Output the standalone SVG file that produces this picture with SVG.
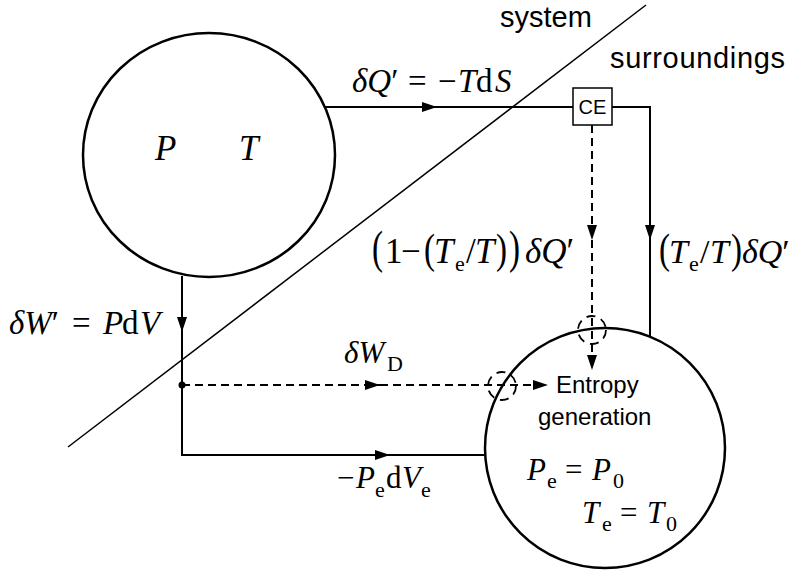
<svg xmlns="http://www.w3.org/2000/svg" width="802" height="573" viewBox="0 0 802 573">
<style>
.m{font-family:"Liberation Serif","Times New Roman",serif;fill:#000}
.i{font-style:italic}
.s{font-size:22px;font-style:normal}
.t{font-family:"Liberation Sans",Arial,sans-serif;fill:#000}
.node{fill:#fff;stroke:#000;stroke-width:2.5}
.c{fill:none;stroke:#000;stroke-width:2}
.d{fill:none;stroke:#000;stroke-width:2;stroke-dasharray:8 5}
.dc{fill:none;stroke:#000;stroke-width:1.8;stroke-dasharray:9 6}
</style>
<defs>
<marker id="arr" markerUnits="userSpaceOnUse" markerWidth="16" markerHeight="12" refX="15" refY="5" orient="auto" viewBox="0 0 16 10">
<path d="M0,0 L15,5 L0,10 z" fill="#000"/>
</marker>
</defs>
<g id="boundary">
<line x1="68" y1="447" x2="646" y2="5" stroke="#000" stroke-width="1.5"/>
<text class="t" x="500" y="27" font-size="29">system</text>
<text class="t" x="610" y="68" font-size="29" textLength="175">surroundings</text>
</g>
<g id="system-node">
<ellipse class="node" cx="209" cy="155" rx="126" ry="122"/>
<text class="m i" x="155" y="160" font-size="35">P</text>
<text class="m i" x="239" y="160" font-size="35">T</text>
</g>
<g id="surroundings-node">
<circle class="node" cx="605" cy="448" r="120"/>
<text class="t" x="556" y="393" font-size="24">Entropy</text>
<text class="t" x="538" y="425" font-size="24">generation</text>
<text class="m" font-size="31" y="480"><tspan class="i" x="527">P</tspan><tspan class="s" x="547" y="488">e</tspan><tspan x="565" y="480">=</tspan><tspan class="i" x="592">P</tspan><tspan class="s" x="613" y="488">0</tspan></text>
<text class="m" font-size="31" y="523"><tspan class="i" x="582">T</tspan><tspan class="s" x="602" y="531">e</tspan><tspan x="620" y="523">=</tspan><tspan class="i" x="647">T</tspan><tspan class="s" x="666" y="531">0</tspan></text>
</g>
<g id="ce-node">
<rect x="573" y="88" width="39" height="37" fill="#fff" stroke="#000" stroke-width="1.5"/>
<text class="t" x="592.5" y="114" font-size="20" text-anchor="middle">CE</text>
</g>
<g id="connectors">
<path class="c" d="M325,107 L437,107" marker-end="url(#arr)"/>
<path class="c" d="M437,107 L573,107"/>
<path class="c" d="M612,107 L650,107 L650,240" marker-end="url(#arr)"/>
<path class="c" d="M650,240 L650,337"/>
<path class="d" d="M592,125 L592,240" marker-end="url(#arr)"/>
<path class="d" d="M592,240 L592,370" marker-end="url(#arr)"/>
<path class="c" d="M182,276 L182,332" marker-end="url(#arr)"/>
<path class="c" d="M182,332 L182,455 L390,455" marker-end="url(#arr)"/>
<path class="c" d="M390,455 L486,455"/>
<path class="d" d="M182,385 L380,385" marker-end="url(#arr)"/>
<path class="d" d="M380,385 L548,385" marker-end="url(#arr)"/>
<circle cx="182" cy="385" r="3.5" fill="#000"/>
<circle class="dc" cx="592" cy="330" r="14"/>
<circle class="dc" cx="502" cy="386" r="14"/>
<text class="m" font-size="33" y="92"><tspan class="i" x="352">δQ</tspan><tspan>′</tspan><tspan x="408">=</tspan><tspan x="438">−</tspan><tspan class="i" x="458">T</tspan><tspan x="476">d</tspan><tspan class="i" x="495">S</tspan></text>
<text class="m" font-size="33" transform="translate(372,263) scale(1,1.4)">(</text>
<text class="m" font-size="33" transform="translate(424,263) scale(1,1.25)">(</text>
<text class="m" font-size="33" transform="translate(496,263) scale(1,1.25)">)</text>
<text class="m" font-size="33" transform="translate(509,263) scale(1,1.4)">)</text>
<text class="m" font-size="35" y="263"><tspan x="385">1</tspan><tspan x="401">−</tspan><tspan class="i" x="434">T</tspan><tspan class="s" x="455" y="271">e</tspan><tspan x="466" y="263">/</tspan><tspan class="i" x="475">T</tspan><tspan class="i" x="525">δQ</tspan><tspan>′</tspan></text>
<text class="m" font-size="33" transform="translate(659,263) scale(1,1.3)">(</text>
<text class="m" font-size="33" transform="translate(731,263) scale(1,1.3)">)</text>
<text class="m" font-size="34" y="263"><tspan class="i" x="669">T</tspan><tspan class="s" x="689" y="271">e</tspan><tspan x="700" y="263">/</tspan><tspan class="i" x="710">T</tspan><tspan class="i" x="742">δQ</tspan><tspan>′</tspan></text>
<text class="m" font-size="33" y="334"><tspan class="i" x="9">δW</tspan><tspan>′</tspan><tspan x="72">=</tspan><tspan class="i" x="103">P</tspan><tspan x="122">d</tspan><tspan class="i" x="140">V</tspan></text>
<text class="m" font-size="31" y="363"><tspan class="i" x="344">δW</tspan><tspan class="s" x="387" y="371">D</tspan></text>
<text class="m" font-size="31" y="488"><tspan x="337">−</tspan><tspan class="i" x="356">P</tspan><tspan class="s" x="375" y="497">e</tspan><tspan x="386" y="488">d</tspan><tspan class="i" x="402">V</tspan><tspan class="s" x="421" y="497">e</tspan></text>
</g>
</svg>
